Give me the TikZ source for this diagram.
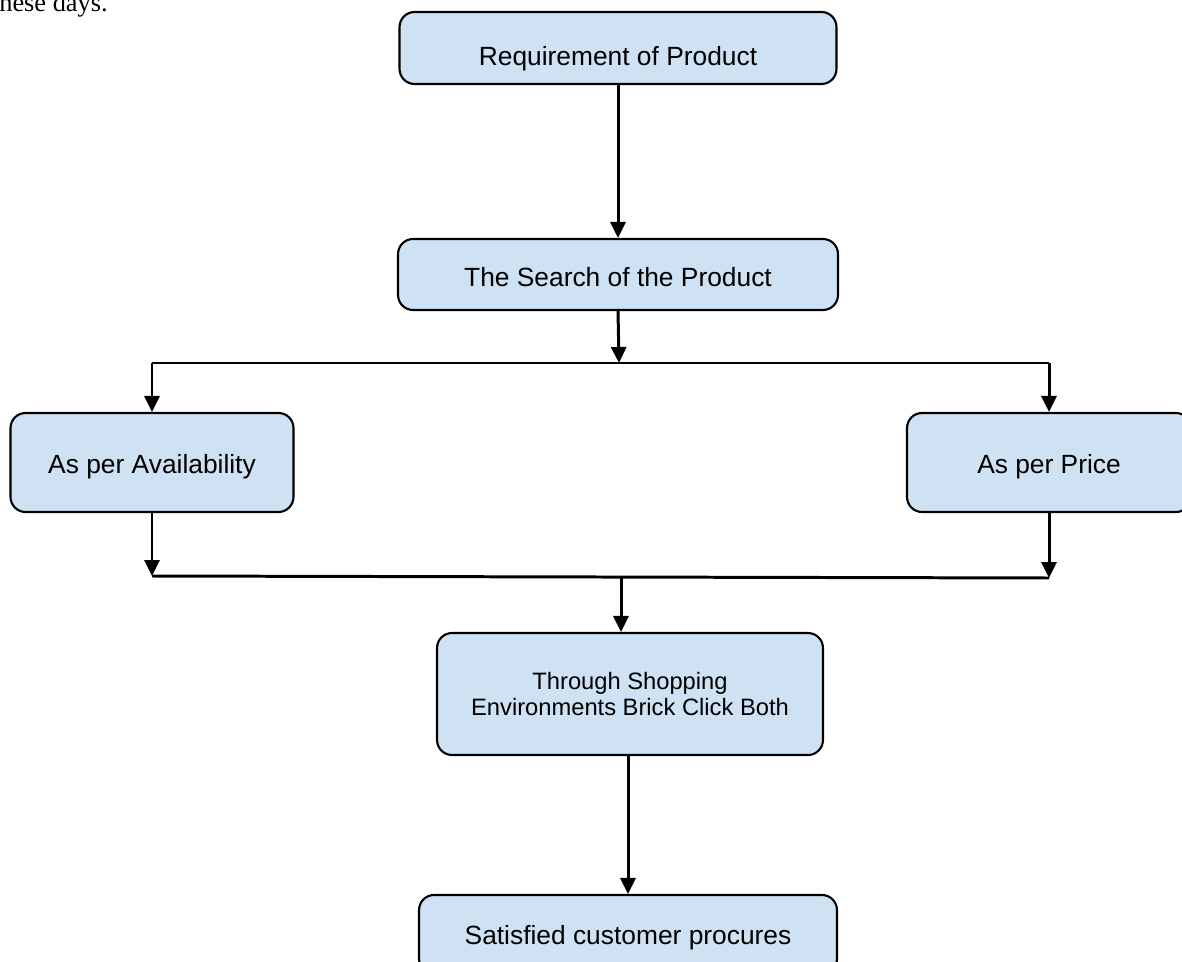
\documentclass[tikz,border=0pt]{standalone}
\usepackage{fontspec}
\setmainfont{Liberation Sans}
\newfontfamily\introfont{Liberation Serif}
\usetikzlibrary{arrows.meta}
\definecolor{boxblue}{RGB}{207,226,243}

\begin{document}
\begin{tikzpicture}[x=0.02cm, y=-0.02cm,
    stage/.style={draw, fill=boxblue, rounded corners=0.3cm, line width=1.2pt,
      inner sep=0pt, align=center, font=\fontsize{15}{17}\selectfont},
    flow/.style={line width=1.7pt, -{Triangle[length=0.32cm, width=0.3cm]}},
    rail/.style={line width=1.7pt}]

      \useasboundingbox (0,0) rectangle (1182,962);
      \clip (0,0) rectangle (1182,962);

      \node[anchor=base east, inner sep=0pt, font=\introfont\fontsize{15}{18}\selectfont]
        (intro) at (108,12) {these days.};

      \begin{scope}[every node/.style={stage, anchor=base}]
        \node[minimum width=8.74cm, text height=1.08cm, text depth=0.36cm] (req)    at (618,66)  {Requirement of Product};
        \node[minimum width=8.80cm, text height=0.96cm, text depth=0.46cm] (search) at (618,287) {The Search of the Product};
        \node[minimum width=5.66cm, text height=1.20cm, text depth=0.78cm] (avail)  at (152,473) {As per Availability};
        \node[minimum width=5.68cm, text height=1.20cm, text depth=0.78cm] (price)  at (1049,473) {As per Price};
        \node[minimum width=8.36cm, text height=0.98cm, text depth=0.60cm] (procure) at (628,944) {Satisfied customer procures};
      \end{scope}

      \node[stage, minimum width=7.72cm, minimum height=2.44cm, font=\fontsize{13.5}{15}\selectfont]
        (through) at (630,694) {Through Shopping\\Environments Brick Click Both};

      \coordinate (split)  at (619,363);
      \coordinate (splitL) at (152,363);
      \coordinate (splitR) at (1049,363);
      \coordinate (joinL)  at (152,576);
      \coordinate (joinR)  at (1049,578);
      \coordinate (join)   at (621,577);

      \draw[flow] (req) -- (search);
      \draw[flow] (search.south) -- (split);
      \draw[rail] (splitL) -- (splitR);
      \draw[flow] (splitL) -- (avail.north);
      \draw[flow] (splitR) -- (price.north);
      \draw[flow] (avail.south) -- (joinL);
      \draw[flow] (price.south) -- (joinR);
      \draw[rail] (joinL) -- (joinR);
      \draw[flow] (join) -- (join |- through.north);
      \draw[flow] (through.south -| procure.north) -- (procure.north);

    \end{tikzpicture}
\end{document}
